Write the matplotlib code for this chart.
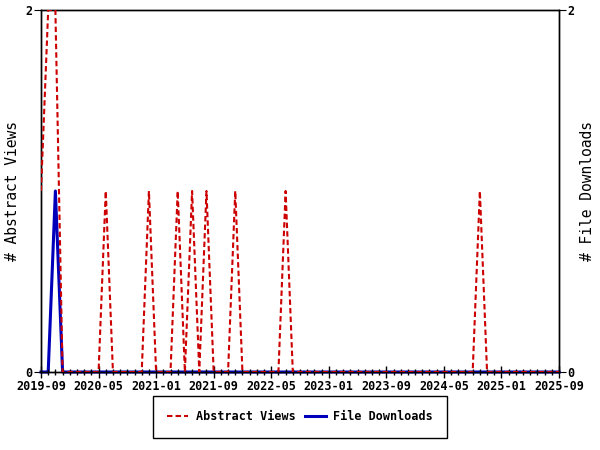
import numpy as np
import pandas as pd
import matplotlib
matplotlib.use("Agg")
import matplotlib.pyplot as plt

plt.rcParams['font.family'] = ['DejaVu Sans Mono']
plt.rcParams['font.weight'] = 'bold'

# monthly series, 2019-09 .. 2025-09 (only non-zero months listed)
months = pd.period_range('2019-09', '2025-09', freq='M')
view_months = ['2019-09', '2019-10', '2019-11', '2020-06', '2020-12', '2021-04',
               '2021-06', '2021-08', '2021-12', '2022-07', '2024-10']
view_counts = [1, 2, 2, 1, 1, 1, 1, 1, 1, 1, 1]
download_months = ['2019-11']
download_counts = [1]
tick_labels = ['2019-09', '2020-05', '2021-01', '2021-09', '2022-05',
               '2023-01', '2023-09', '2024-05', '2025-01', '2025-09']

views = pd.Series(0, index=months)
views[pd.PeriodIndex(view_months, freq='M')] = view_counts
downloads = pd.Series(0, index=months)
downloads[pd.PeriodIndex(download_months, freq='M')] = download_counts

x = np.arange(len(months))
red = '#cc0000'
blue = '#0000bb'

fig = plt.figure(figsize=(6, 4.5), dpi=100)
ax = fig.add_axes([41/600, 1-372/450, 518/600, 362/450])
ax2 = ax.twinx()

ax.plot(x, views.values, color=red, lw=1.5, dashes=(2.6, 1.5), label='Abstract Views', zorder=3)
ax2.plot(x, downloads.values, color=blue, lw=2.2, label='File Downloads', clip_on=False, zorder=4)

for a in (ax, ax2):
    a.set_xlim(0, len(months) - 1)
    a.set_ylim(0, 2)
    a.set_yticks([0, 2])
    for s in a.spines.values():
        s.set_linewidth(1)
ax.set_zorder(ax2.get_zorder() + 1)
ax.patch.set_visible(False)

tick_idx = [list(months.strftime('%Y-%m')).index(t) for t in tick_labels]
ax.set_xticks(tick_idx)
ax.set_xticklabels(tick_labels)
ax.set_xticks(x, minor=True)
ax.tick_params(axis='x', which='major', direction='inout', length=8, width=1, labelsize=8.5, pad=2)
ax.tick_params(axis='x', which='minor', direction='inout', length=5, width=1)
ax.tick_params(axis='y', direction='out', length=5, labelsize=8.5, pad=1)
ax2.tick_params(axis='y', direction='out', length=5, labelsize=8.5, pad=1)

ax.set_ylabel('# Abstract Views', fontsize=10.5, labelpad=4)
ax2.set_ylabel('# File Downloads', fontsize=10.5, labelpad=4)

h1, l1 = ax.get_legend_handles_labels()
h2, l2 = ax2.get_legend_handles_labels()
leg = fig.legend(h1 + h2, l1 + l2, loc='center', bbox_to_anchor=(300/600, 1-417/450),
                 ncol=2, fancybox=False, edgecolor='black', fontsize=8.5,
                 handlelength=1.8, handletextpad=0.6, columnspacing=0.8,
                 borderpad=1.2, framealpha=1)
leg.get_frame().set_linewidth(1)

fig.savefig('out.png', dpi=100)
